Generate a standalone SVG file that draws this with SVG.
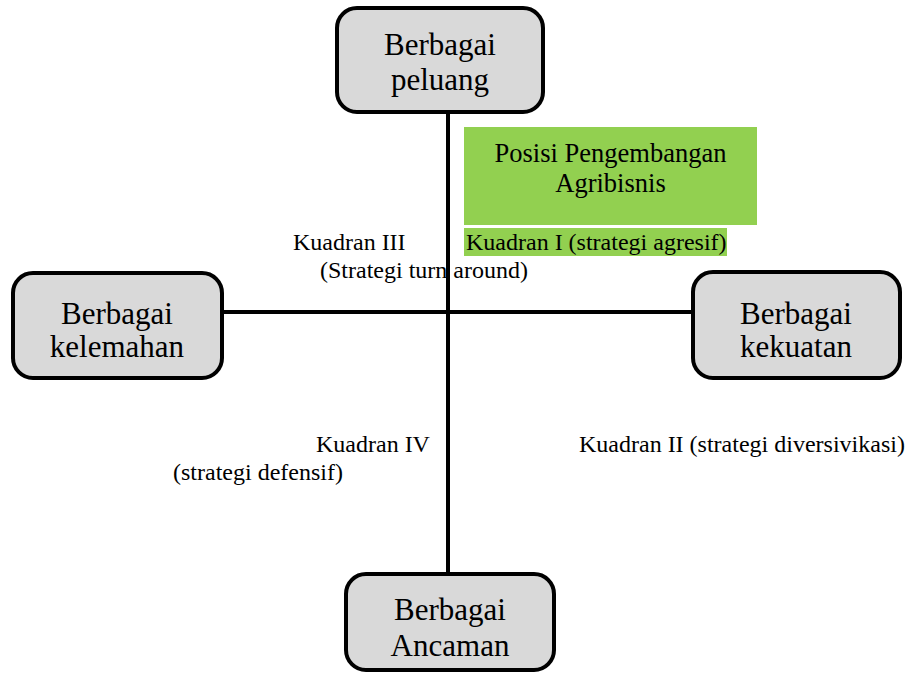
<svg xmlns="http://www.w3.org/2000/svg" width="906" height="673" viewBox="0 0 906 673">
<rect width="906" height="673" fill="#fff"/>
<g id="connectors" stroke="#000" stroke-width="4" fill="none">
<line x1="448" y1="112" x2="448" y2="575"/>
<line x1="222" y1="312" x2="693" y2="312"/>
</g>
<g id="green">
<rect x="464" y="127" width="293" height="98" fill="#92D050"/>
<text x="610.5" y="162" text-anchor="middle" font-family="Liberation Serif" font-size="26.5">Posisi Pengembangan</text>
<text x="610.5" y="192" text-anchor="middle" font-family="Liberation Serif" font-size="26.5">Agribisnis</text>
</g>
<g id="peluang">
<rect x="337" y="8" width="206" height="104" rx="20" fill="#D9D9D9" stroke="#000" stroke-width="4"/>
<text x="440" y="55" text-anchor="middle" font-family="Liberation Serif" font-size="31">Berbagai</text>
<text x="440" y="90" text-anchor="middle" font-family="Liberation Serif" font-size="31">peluang</text>
</g>
<g id="kelemahan">
<rect x="13" y="273" width="209" height="105" rx="20" fill="#D9D9D9" stroke="#000" stroke-width="4"/>
<text x="117" y="324" text-anchor="middle" font-family="Liberation Serif" font-size="31">Berbagai</text>
<text x="117" y="357" text-anchor="middle" font-family="Liberation Serif" font-size="31">kelemahan</text>
</g>
<g id="kekuatan">
<rect x="693" y="272" width="207" height="106" rx="20" fill="#D9D9D9" stroke="#000" stroke-width="4"/>
<text x="796" y="324" text-anchor="middle" font-family="Liberation Serif" font-size="31">Berbagai</text>
<text x="796" y="357" text-anchor="middle" font-family="Liberation Serif" font-size="31">kekuatan</text>
</g>
<g id="ancaman">
<rect x="346" y="574" width="208" height="96" rx="20" fill="#D9D9D9" stroke="#000" stroke-width="4"/>
<text x="450" y="620" text-anchor="middle" font-family="Liberation Serif" font-size="31">Berbagai</text>
<text x="450" y="656" text-anchor="middle" font-family="Liberation Serif" font-size="31">Ancaman</text>
</g>
<g id="labels">
<text x="293" y="250" font-family="Liberation Serif" font-size="24">Kuadran III</text>
<text x="320" y="278" font-family="Liberation Serif" font-size="24">(Strategi turn around)</text>
<rect x="464" y="228" width="263" height="28" fill="#92D050"/>
<text x="466" y="250" font-family="Liberation Serif" font-size="24">Kuadran I (strategi agresif)</text>
<text x="316" y="452" font-family="Liberation Serif" font-size="24">Kuadran IV</text>
<text x="173" y="480" font-family="Liberation Serif" font-size="24">(strategi defensif)</text>
<text x="579" y="452" font-family="Liberation Serif" font-size="24">Kuadran II (strategi diversivikasi)</text>
</g>
</svg>
